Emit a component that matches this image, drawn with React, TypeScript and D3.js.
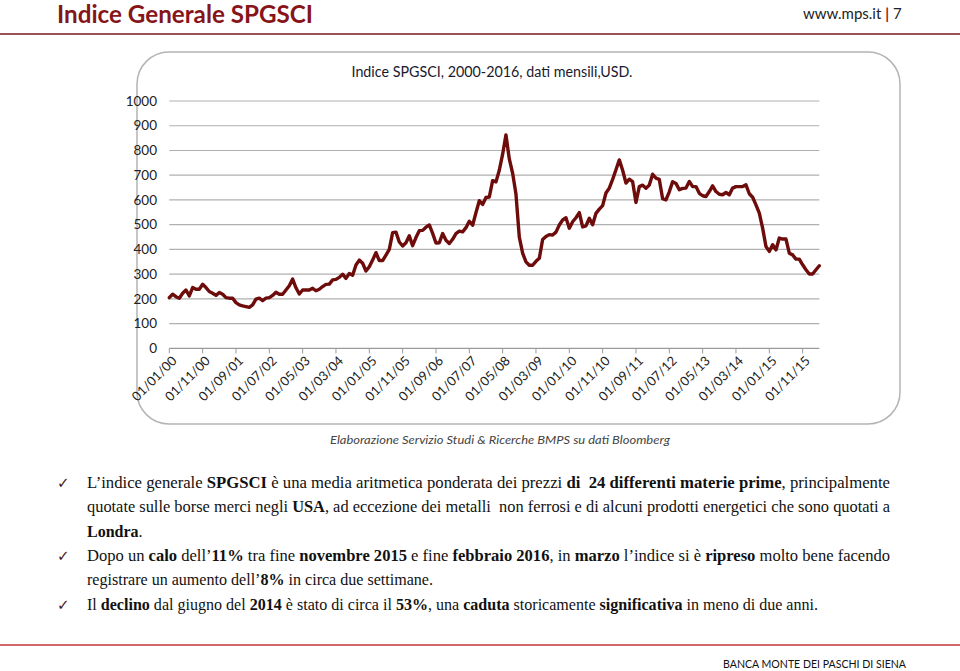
import React from "react";
import * as d3 from "d3";

// ---- Data ----
const startMonth = "01/01/00";
const values: number[] = [
  205, 219, 209, 203, 223, 236, 212, 246, 239, 239,
  259, 246, 230, 223, 214, 226, 219, 205, 203, 203,
  185, 176, 172, 169, 166, 176, 199, 203, 193, 203,
  205, 214, 227, 219, 219, 236, 253, 280, 245, 220,
  236, 236, 236, 243, 233, 239, 250, 259, 260, 277,
  279, 287, 300, 283, 303, 296, 337, 357, 344, 313,
  330, 357, 387, 355, 355, 377, 400, 468, 470, 430,
  414, 427, 455, 415, 448, 476, 477, 490, 499, 465,
  426, 427, 464, 437, 424, 441, 464, 474, 471, 488,
  514, 498, 549, 597, 582, 610, 612, 678, 673, 720,
  785, 863, 766, 708, 624, 450, 385, 350, 336, 336,
  352, 364, 440, 452, 460, 458, 470, 499, 519, 528,
  486, 512, 528, 549, 491, 495, 526, 500, 546, 563,
  577, 628, 648, 683, 722, 762, 720, 668, 684, 674,
  590, 654, 660, 647, 660, 704, 688, 683, 605, 600,
  633, 674, 667, 641, 647, 648, 675, 654, 654, 627,
  617, 614, 634, 657, 634, 623, 621, 630, 621, 648,
  654, 654, 654, 661, 625, 611, 580, 547, 486, 412,
  392, 419, 398, 446, 442, 442, 385, 378, 361, 361,
  338, 318, 301, 301, 318, 334,
];
const xTickLabels = [
  "01/01/00", "01/11/00", "01/09/01", "01/07/02", "01/05/03", "01/03/04",
  "01/01/05", "01/11/05", "01/09/06", "01/07/07", "01/05/08", "01/03/09",
  "01/01/10", "01/11/10", "01/09/11", "01/07/12", "01/05/13", "01/03/14",
  "01/01/15", "01/11/15",
];
const yTicks = [0, 100, 200, 300, 400, 500, 600, 700, 800, 900, 1000];

const pageTitle = "Indice Generale SPGSCI";
const chartTitle = "Indice SPGSCI, 2000-2016, dati mensili,USD.";
const sourceText = "Elaborazione Servizio Studi & Ricerche BMPS su dati Bloomberg";
const footerText = "BANCA MONTE DEI PASCHI DI SIENA";

type Seg = [string, boolean];
const bulletLines: { segs: Seg[]; width: number | null; check: boolean }[] = [
  {
    check: true, width: 803, segs: [
      ["L’indice generale ", false], ["SPGSCI", true],
      [" è una media aritmetica ponderata dei prezzi ", false],
      ["di  24 differenti materie prime", true], [", principalmente", false],
    ],
  },
  {
    check: false, width: 803, segs: [
      ["quotate sulle borse merci negli ", false], ["USA", true],
      [", ad eccezione dei metalli  non ferrosi e di alcuni prodotti energetici che sono quotati a", false],
    ],
  },
  { check: false, width: null, segs: [["Londra", true], [".", false]] },
  {
    check: true, width: 803, segs: [
      ["Dopo un ", false], ["calo", true], [" dell’", false], ["11%", true],
      [" tra fine ", false], ["novembre 2015", true], [" e fine ", false],
      ["febbraio 2016", true], [", in ", false], ["marzo", true],
      [" l’indice si è ", false], ["ripreso", true], [" molto bene facendo", false],
    ],
  },
  {
    check: false, width: 346, segs: [
      ["registrare un aumento dell’", false], ["8%", true], [" in circa due settimane.", false],
    ],
  },
  {
    check: true, width: 731, segs: [
      ["Il ", false], ["declino", true], [" dal giugno del ", false], ["2014", true],
      [" è stato di circa il ", false], ["53%", true], [", una ", false], ["caduta", true],
      [" storicamente ", false], ["significativa", true], [" in meno di due anni.", false],
    ],
  },
];

// ---- helpers ----
const parse = d3.timeParse("%d/%m/%y");
const start = parse(startMonth)!;
const monthIndex = (d: Date) =>
  (d.getFullYear() - start.getFullYear()) * 12 + (d.getMonth() - start.getMonth());

export default function App() {
  const W = 960, H = 671;
  const x = d3.scaleLinear().domain([0, values.length - 1]).range([169.3, 819.3]);
  const y = d3.scaleLinear().domain([0, 1000]).range([348.4, 101]);
  const line = d3.line<number>().x((_, i) => x(i)).y((v) => y(v));
  const sans = "Lato, 'Open Sans', sans-serif";
  const serif = "'Liberation Serif', 'DejaVu Serif', serif";

  return (
    <svg width={W} height={H} style={{ position: "absolute", left: 0, top: 0, background: "#fff" }}>
      {/* header */}
      <text x={57} y={23} fontFamily={sans} fontWeight={700} fontSize={24} fill="#861419"
        textLength={256} lengthAdjust="spacingAndGlyphs">{pageTitle}</text>
      <text x={803} y={19} fontFamily={sans} fontSize={15} fill="#222">
        <tspan>www.mps.it </tspan>
        <tspan fill="#a0151b" fontWeight={700}>|</tspan>
        <tspan> 7</tspan>
      </text>
      <line x1={0} x2={W} y1={34} y2={34} stroke="#7a1a1d" strokeWidth={1.5} />

      {/* chart frame */}
      <rect x={137} y={52} width={763} height={372} rx={32} ry={32} fill="#fff"
        stroke="#b4b4b4" strokeWidth={1.5} />
      <text x={492} y={77} textAnchor="middle" fontFamily={sans} fontSize={14.5} fill="#1a1a2e"
        textLength={281} lengthAdjust="spacingAndGlyphs">{chartTitle}</text>

      {/* gridlines & y labels */}
      {yTicks.map((t) => (
        <g key={t}>
          <line x1={x(0)} x2={x(values.length - 1)} y1={y(t)} y2={y(t)}
            stroke={t === 0 ? "#9a9a9a" : "#b0b0b0"} strokeWidth={1.2} />
          <text x={157} y={y(t)} dy="0.35em" textAnchor="end" fontFamily={sans}
            fontSize={13.5} fill="#222">{t}</text>
        </g>
      ))}

      {/* x ticks and labels */}
      {xTickLabels.map((lab) => {
        const xi = x(monthIndex(parse(lab)!));
        return (
          <g key={lab}>
            <line x1={xi} x2={xi} y1={y(0)} y2={y(0) + 5} stroke="#9a9a9a" strokeWidth={1} />
            <text transform={`translate(${xi + 5},${y(0) + 10}) rotate(-45)`} textAnchor="end"
              dy="0.35em" fontFamily={sans} fontSize={13} fill="#222">{lab}</text>
          </g>
        );
      })}

      {/* series */}
      <path d={line(values) || ""} fill="none" stroke="#6e0c0c" strokeWidth={3.4}
        strokeLinejoin="round" strokeLinecap="round" />

      {/* source */}
      <text x={500} y={444} textAnchor="middle" fontFamily={sans} fontStyle="italic" fontSize={12}
        fill="#444" textLength={340} lengthAdjust="spacingAndGlyphs">{sourceText}</text>

      {/* bullet text */}
      {bulletLines.map((ln, i) => {
        const yy = 488 + i * 24.3;
        const extra = ln.width != null
          ? { textLength: ln.width, lengthAdjust: "spacingAndGlyphs" as const }
          : {};
        return (
          <g key={i}>
            {ln.check && (
              <text x={57} y={yy} fontFamily="'DejaVu Sans', sans-serif" fontSize={15}
                fontWeight={700} fill="#4a1518">✓</text>
            )}
            <text x={87} y={yy} fontFamily={serif} fontSize={16} fill="#111"
              style={{ whiteSpace: "pre" }} {...extra}>
              {ln.segs.map((s, j) => (
                <tspan key={j} fontWeight={s[1] ? 700 : 400}>{s[0]}</tspan>
              ))}
            </text>
          </g>
        );
      })}

      {/* footer */}
      <line x1={0} x2={W} y1={645} y2={645} stroke="#c0353a" strokeWidth={1.5} />
      <text x={723} y={668} fontFamily={sans} fontSize={12} fill="#111"
        textLength={183} lengthAdjust="spacingAndGlyphs">{footerText}</text>
    </svg>
  );
}
